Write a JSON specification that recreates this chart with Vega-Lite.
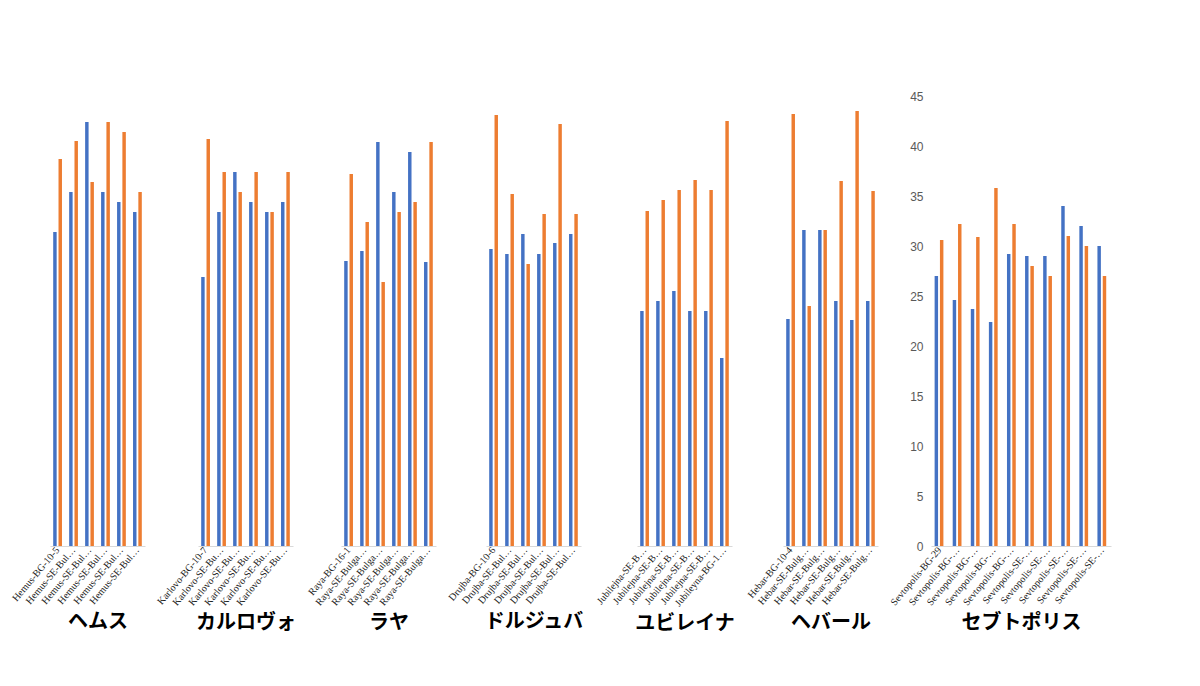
{
  "$schema": "https://vega.github.io/schema/vega-lite/v6.json",
  "background": "white",
  "padding": {"left": 10, "top": 90, "right": 5, "bottom": 5},
  "datasets": {
    "bars": [
      {"panel": 1, "label": "Hemus-BG-10-5", "blue": 31.4, "orange": 38.7},
      {"panel": 1, "label": "Hemus-SE-Bulgaria 2016", "blue": 35.4, "orange": 40.5},
      {"panel": 1, "label": "Hemus-SE-Bulgaria 2017", "blue": 42.4, "orange": 36.4},
      {"panel": 1, "label": "Hemus-SE-Bulgaria 2018", "blue": 35.4, "orange": 42.4},
      {"panel": 1, "label": "Hemus-SE-Bulgaria 2019", "blue": 34.4, "orange": 41.4},
      {"panel": 1, "label": "Hemus-SE-Bulgaria 2020", "blue": 33.4, "orange": 35.4},
      {"panel": 2, "label": "Karlovo-BG-10-7", "blue": 26.9, "orange": 40.7},
      {"panel": 2, "label": "Karlovo-SE-Bulgaria 2016", "blue": 33.4, "orange": 37.4},
      {"panel": 2, "label": "Karlovo-SE-Bulgaria 2017", "blue": 37.4, "orange": 35.4},
      {"panel": 2, "label": "Karlovo-SE-Bulgaria 2018", "blue": 34.4, "orange": 37.4},
      {"panel": 2, "label": "Karlovo-SE-Bulgaria 2019", "blue": 33.4, "orange": 33.4},
      {"panel": 2, "label": "Karlovo-SE-Bulgaria 2020", "blue": 34.4, "orange": 37.4},
      {"panel": 3, "label": "Raya-BG-16-1", "blue": 28.5, "orange": 37.2},
      {"panel": 3, "label": "Raya-SE-Bulgaria 2016", "blue": 29.5, "orange": 32.4},
      {"panel": 3, "label": "Raya-SE-Bulgaria 2017", "blue": 40.4, "orange": 26.4},
      {"panel": 3, "label": "Raya-SE-Bulgaria 2018", "blue": 35.4, "orange": 33.4},
      {"panel": 3, "label": "Raya-SE-Bulgaria 2019", "blue": 39.4, "orange": 34.4},
      {"panel": 3, "label": "Raya-SE-Bulgaria 2020", "blue": 28.4, "orange": 40.4},
      {"panel": 4, "label": "Drujba-BG-10-6", "blue": 29.7, "orange": 43.1},
      {"panel": 4, "label": "Drujba-SE-Bulgaria 2016", "blue": 29.2, "orange": 35.2},
      {"panel": 4, "label": "Drujba-SE-Bulgaria 2017", "blue": 31.2, "orange": 28.2},
      {"panel": 4, "label": "Drujba-SE-Bulgaria 2018", "blue": 29.2, "orange": 33.2},
      {"panel": 4, "label": "Drujba-SE-Bulgaria 2019", "blue": 30.3, "orange": 42.2},
      {"panel": 4, "label": "Drujba-SE-Bulgaria 2020", "blue": 31.2, "orange": 33.2},
      {"panel": 5, "label": "Jubilejna-SE-Bulgaria 2016", "blue": 23.5, "orange": 33.5},
      {"panel": 5, "label": "Jubilejna-SE-Bulgaria 2017", "blue": 24.5, "orange": 34.6},
      {"panel": 5, "label": "Jubilejna-SE-Bulgaria 2018", "blue": 25.5, "orange": 35.6},
      {"panel": 5, "label": "Jubilejna-SE-Bulgaria 2019", "blue": 23.5, "orange": 36.6},
      {"panel": 5, "label": "Jubilejna-SE-Bulgaria 2020", "blue": 23.5, "orange": 35.6},
      {"panel": 5, "label": "Jubileyna-BG-16-2", "blue": 18.8, "orange": 42.5},
      {"panel": 6, "label": "Hebar-BG-10-4", "blue": 22.7, "orange": 43.2},
      {"panel": 6, "label": "Hebar-SE-Bulgaria 2016", "blue": 31.6, "orange": 24.0},
      {"panel": 6, "label": "Hebar-SE-Bulgaria 2017", "blue": 31.6, "orange": 31.6},
      {"panel": 6, "label": "Hebar-SE-Bulgaria 2018", "blue": 24.5, "orange": 36.5},
      {"panel": 6, "label": "Hebar-SE-Bulgaria 2019", "blue": 22.6, "orange": 43.5},
      {"panel": 6, "label": "Hebar-SE-Bulgaria 2020", "blue": 24.5, "orange": 35.5},
      {"panel": 7, "label": "Sevtopolis-BG-29", "blue": 27.0, "orange": 30.6},
      {"panel": 7, "label": "Sevtopolis-BG-17-2", "blue": 24.6, "orange": 32.2},
      {"panel": 7, "label": "Sevtopolis-BG-17-1", "blue": 23.7, "orange": 30.9},
      {"panel": 7, "label": "Sevtopolis-BG-16-3", "blue": 22.4, "orange": 35.8},
      {"panel": 7, "label": "Sevtopolis-BG-17-3", "blue": 29.2, "orange": 32.2},
      {"panel": 7, "label": "Sevtopolis-SE-Bulgaria 2016", "blue": 29.0, "orange": 28.0},
      {"panel": 7, "label": "Sevtopolis-SE-Bulgaria 2017", "blue": 29.0, "orange": 27.0},
      {"panel": 7, "label": "Sevtopolis-SE-Bulgaria 2018", "blue": 34.0, "orange": 31.0},
      {"panel": 7, "label": "Sevtopolis-SE-Bulgaria 2019", "blue": 32.0, "orange": 30.0},
      {"panel": 7, "label": "Sevtopolis-SE-Bulgaria 2020", "blue": 30.0, "orange": 27.0}
    ]
  },
  "data": {"name": "bars"},
  "transform": [{"fold": ["blue", "orange"], "as": ["series", "value"]}],
  "spacing": 10,
  "hconcat": [
    {"width": 95, "height": 450, "transform": [{"filter": "datum.panel === 1"}], "mark": {"type": "bar"},
     "encoding": {
       "x": {"field": "label", "type": "nominal", "sort": null, "title": "ヘムス", "scale": {"paddingInner": 0.45, "paddingOuter": 0.2}},
       "xOffset": {"field": "series", "type": "nominal", "scale": {"paddingInner": 0.35}},
       "y": {"field": "value", "type": "quantitative", "scale": {"domain": [0, 45]}, "axis": null},
       "color": {"field": "series", "type": "nominal", "legend": null, "scale": {"domain": ["blue", "orange"], "range": ["#4472c4", "#ed7d31"]}}}},
    {"width": 95, "height": 450, "transform": [{"filter": "datum.panel === 2"}], "mark": {"type": "bar"},
     "encoding": {
       "x": {"field": "label", "type": "nominal", "sort": null, "title": "カルロヴォ", "scale": {"paddingInner": 0.45, "paddingOuter": 0.2}},
       "xOffset": {"field": "series", "type": "nominal", "scale": {"paddingInner": 0.35}},
       "y": {"field": "value", "type": "quantitative", "scale": {"domain": [0, 45]}, "axis": null},
       "color": {"field": "series", "type": "nominal", "legend": null, "scale": {"domain": ["blue", "orange"], "range": ["#4472c4", "#ed7d31"]}}}},
    {"width": 95, "height": 450, "transform": [{"filter": "datum.panel === 3"}], "mark": {"type": "bar"},
     "encoding": {
       "x": {"field": "label", "type": "nominal", "sort": null, "title": "ラヤ", "scale": {"paddingInner": 0.45, "paddingOuter": 0.2}},
       "xOffset": {"field": "series", "type": "nominal", "scale": {"paddingInner": 0.35}},
       "y": {"field": "value", "type": "quantitative", "scale": {"domain": [0, 45]}, "axis": null},
       "color": {"field": "series", "type": "nominal", "legend": null, "scale": {"domain": ["blue", "orange"], "range": ["#4472c4", "#ed7d31"]}}}},
    {"width": 95, "height": 450, "transform": [{"filter": "datum.panel === 4"}], "mark": {"type": "bar"},
     "encoding": {
       "x": {"field": "label", "type": "nominal", "sort": null, "title": "ドルジュバ", "scale": {"paddingInner": 0.45, "paddingOuter": 0.2}},
       "xOffset": {"field": "series", "type": "nominal", "scale": {"paddingInner": 0.35}},
       "y": {"field": "value", "type": "quantitative", "scale": {"domain": [0, 45]}, "axis": null},
       "color": {"field": "series", "type": "nominal", "legend": null, "scale": {"domain": ["blue", "orange"], "range": ["#4472c4", "#ed7d31"]}}}},
    {"width": 95, "height": 450, "transform": [{"filter": "datum.panel === 5"}], "mark": {"type": "bar"},
     "encoding": {
       "x": {"field": "label", "type": "nominal", "sort": null, "title": "ユビレイナ", "scale": {"paddingInner": 0.45, "paddingOuter": 0.2}},
       "xOffset": {"field": "series", "type": "nominal", "scale": {"paddingInner": 0.35}},
       "y": {"field": "value", "type": "quantitative", "scale": {"domain": [0, 45]}, "axis": null},
       "color": {"field": "series", "type": "nominal", "legend": null, "scale": {"domain": ["blue", "orange"], "range": ["#4472c4", "#ed7d31"]}}}},
    {"width": 95, "height": 450, "transform": [{"filter": "datum.panel === 6"}], "mark": {"type": "bar"},
     "encoding": {
       "x": {"field": "label", "type": "nominal", "sort": null, "title": "ヘバール", "scale": {"paddingInner": 0.45, "paddingOuter": 0.2}},
       "xOffset": {"field": "series", "type": "nominal", "scale": {"paddingInner": 0.35}},
       "y": {"field": "value", "type": "quantitative", "scale": {"domain": [0, 45]}, "axis": null},
       "color": {"field": "series", "type": "nominal", "legend": null, "scale": {"domain": ["blue", "orange"], "range": ["#4472c4", "#ed7d31"]}}}},
    {"width": 180, "height": 450, "transform": [{"filter": "datum.panel === 7"}], "mark": {"type": "bar"},
     "encoding": {
       "x": {"field": "label", "type": "nominal", "sort": null, "title": "セブトポリス", "scale": {"paddingInner": 0.45, "paddingOuter": 0.2}},
       "xOffset": {"field": "series", "type": "nominal", "scale": {"paddingInner": 0.35}},
       "y": {"field": "value", "type": "quantitative", "scale": {"domain": [0, 45]},
             "axis": {"title": null, "values": [0, 5, 10, 15, 20, 25, 30, 35, 40, 45], "domain": false, "ticks": false, "grid": false, "labelColor": "#595959", "labelFont": "Liberation Sans", "labelFontSize": 12, "labelPadding": 8}},
       "color": {"field": "series", "type": "nominal", "legend": null, "scale": {"domain": ["blue", "orange"], "range": ["#4472c4", "#ed7d31"]}}}}
  ],
  "config": {
    "view": {"stroke": null},
    "axisX": {
      "labelAngle": -50, "labelFont": "Liberation Serif", "labelFontSize": 10, "labelColor": "#222",
      "labelLimit": 75, "ticks": false, "domainColor": "#d9d9d9",
      "titleFont": "Noto Sans CJK JP", "titleFontSize": 20, "titleFontWeight": "bold", "titleColor": "#000", "titlePadding": 6
    }
  }
}
